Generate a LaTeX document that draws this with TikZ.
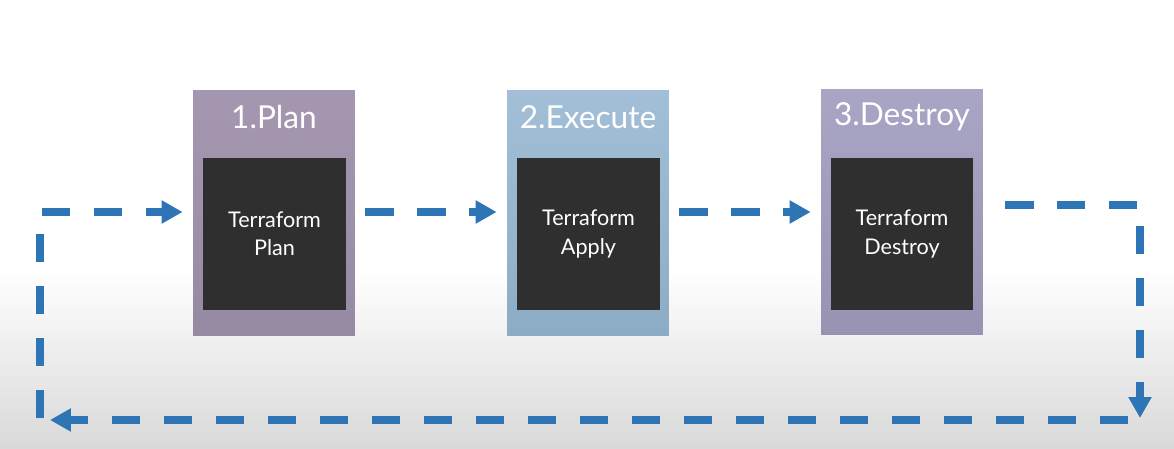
\documentclass[tikz,border=0pt]{standalone}
\usepackage{fontspec}
\setmainfont{Lato}
\usepackage{tikz}
\usetikzlibrary{positioning,arrows.meta}
\definecolor{flowblue}{HTML}{2E75B6}
\definecolor{inner}{HTML}{2F2F2F}
\definecolor{plantop}{HTML}{A597B0}
\definecolor{planbot}{HTML}{968AA2}
\definecolor{applytop}{HTML}{A3BFD8}
\definecolor{applybot}{HTML}{8CACC6}
\definecolor{destroytop}{HTML}{A9A5C5}
\definecolor{destroybot}{HTML}{9893B2}
\begin{document}
\begin{tikzpicture}[x=0.02cm,y=-0.02cm,
  stage/.style={minimum width=3.24cm,minimum height=4.92cm,inner sep=0pt},
  core/.style={fill=inner,minimum width=2.86cm,minimum height=3.04cm,inner sep=0pt,
    text=white,align=center,font=\fontsize{12.3}{16}\selectfont},
  title/.style={text=white,font=\fontsize{18}{20}\selectfont},
  flow/.style={flowblue,line width=0.15cm,dash pattern=on 0.57cm off 0.47cm,
    -{Triangle[width=0.44cm,length=0.42cm]}}]
\useasboundingbox (0,0) rectangle (1174,449);
\fill[white] (0,0) rectangle (1174,270);
\shade[top color=white,bottom color=black!15] (0,270) rectangle (1174,449);
% stages
\node[stage,top color=plantop,bottom color=planbot] (plan) at (274,213) {};
\node[stage,top color=applytop,bottom color=applybot] (apply) at (588,213) {};
\node[stage,top color=destroytop,bottom color=destroybot] (destroy) at (902,212) {};
\node[title] (plant) at (274,117) {1.Plan};
\node[title] (applyt) at (588,117) {2.Execute};
\node[title] (destroyt) at (902,117) {3.Destroy};
\node[core] (planc) at (274.5,234) {Terraform\\Plan};
\node[core] (applyc) at (588.5,234) {Terraform\\Apply};
\node[core] (destroyc) at (902,234) {Terraform\\Destroy};
% loop corners
\coordinate (rt) at (1140,205);
\coordinate (rb) at (1140,418);
\coordinate (bs) at (1128,420);
\coordinate (be) at (50,420);
\coordinate (lb) at (40,418);
% arrows
\draw[flow,shorten <=0.2cm,shorten >=0.2cm] (plan.east |- 0,212) -- (apply.west |- 0,212);
\draw[flow,shorten <=0.2cm,shorten >=0.2cm] (apply.east |- 0,212) -- (destroy.west |- 0,212);
\draw[flow] (1005,205) -- (rt) -- (rb);
\draw[flow] (bs) -- (be);
\draw[flow,shorten >=0.2cm] (lb) |- (plan.west |- 0,212);
\end{tikzpicture}
\end{document}
